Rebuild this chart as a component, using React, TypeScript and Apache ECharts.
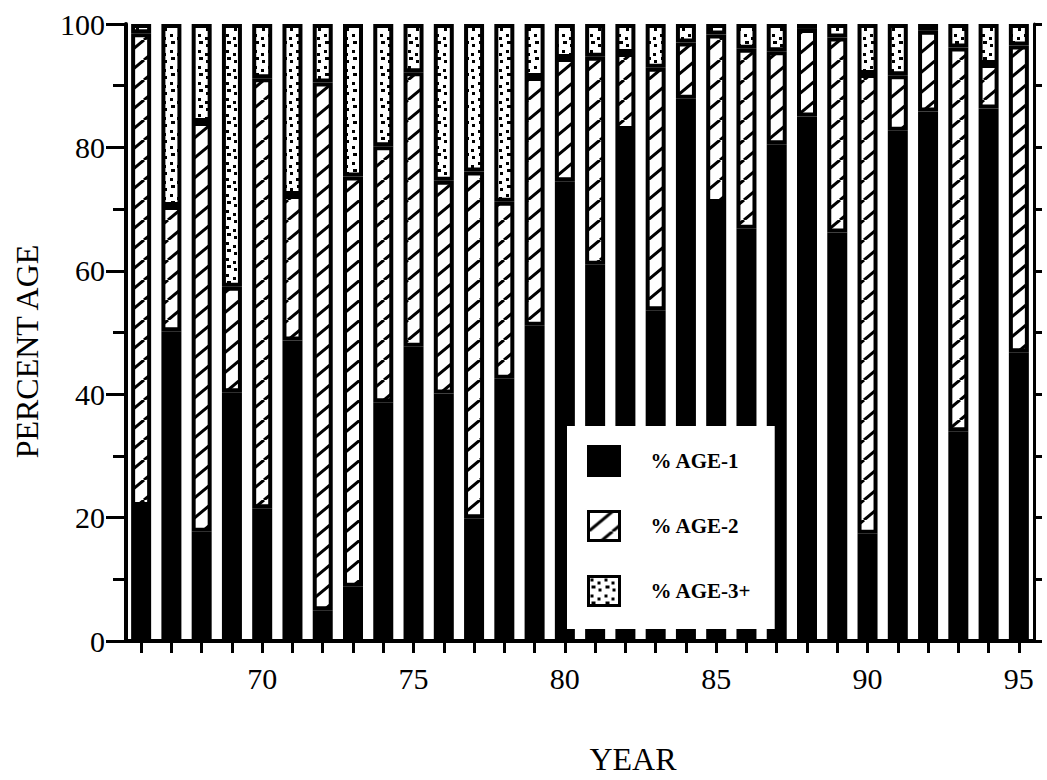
import React, { useEffect, useRef } from 'react';
import * as echarts from 'echarts';

const years = ['66','67','68','69','70','71','72','73','74','75','76','77','78','79','80','81','82','83','84','85','86','87','88','89','90','91','92','93','94','95'];
const age1 = [21.9, 50.2, 17.7, 40.3, 21.5, 48.7, 5.0, 8.8, 38.7, 47.7, 40.1, 19.9, 42.5, 51.1, 74.5, 61.0, 82.8, 53.6, 87.9, 71.0, 66.8, 80.5, 85.0, 66.2, 17.4, 82.7, 85.8, 34.0, 86.3, 46.8];
const age2 = [76.6, 20.3, 66.4, 17.1, 69.7, 23.6, 85.5, 66.5, 41.5, 44.5, 34.5, 56.2, 28.7, 40.3, 20.0, 33.7, 12.5, 39.3, 9.1, 27.3, 29.2, 15.1, 14.2, 31.6, 74.5, 9.0, 13.1, 62.2, 7.2, 49.7];
const age3 = [1.5, 29.5, 15.9, 42.6, 8.8, 27.7, 9.5, 24.7, 19.8, 7.8, 25.4, 23.9, 28.8, 8.6, 5.5, 5.3, 4.7, 7.1, 3.0, 1.7, 4.0, 4.4, 0.8, 2.2, 8.1, 8.3, 1.1, 3.8, 6.5, 3.5];
const seriesNames = ['% AGE-1', '% AGE-2', '% AGE-3+'];
const labelYears = ['70', '75', '80', '85', '90', '95'];

function makeHatch() {
  const w = 24, h = 20;
  const c = document.createElement('canvas');
  c.width = w; c.height = h;
  const g = c.getContext('2d')!;
  g.fillStyle = '#fff';
  g.fillRect(0, 0, w, h);
  g.strokeStyle = '#000';
  g.lineWidth = 3;
  for (const k of [-1, 0, 1]) {
    g.beginPath();
    g.moveTo(k * w, h);
    g.lineTo(k * w + w, 0);
    g.stroke();
  }
  return { image: c, repeat: 'repeat', imageWidth: w, imageHeight: h };
}

function makeDots() {
  const w = 14, h = 16;
  const c = document.createElement('canvas');
  c.width = w; c.height = h;
  const g = c.getContext('2d')!;
  g.fillStyle = '#fff';
  g.fillRect(0, 0, w, h);
  g.fillStyle = '#000';
  g.fillRect(2, 2, 3, 3);
  g.fillRect(9, 5, 3, 3);
  g.fillRect(3, 9, 4, 3);
  g.fillRect(10, 12, 3, 3);
  return { image: c, repeat: 'repeat', imageWidth: w, imageHeight: h };
}

export default function App() {
  const ref = useRef<HTMLDivElement>(null);
  useEffect(() => {
    document.body.style.margin = '0';
    const chart = echarts.init(ref.current!, null, { renderer: 'svg' });
    const font = '"Liberation Serif", "Times New Roman", serif';
    const fills = ['#000', makeHatch(), makeDots()];
    const datas = [age1, age2, age3];
    const series = seriesNames.map((name, i) => ({
      name,
      type: 'bar',
      stack: 'total',
      data: datas[i],
      barWidth: 20,
      xAxisIndex: 0,
      yAxisIndex: 0,
      itemStyle: { color: fills[i], borderColor: '#000', borderWidth: 4 },
      emphasis: { disabled: true },
    }));
    chart.setOption({
      animation: false,
      backgroundColor: '#fff',
      grid: { left: 126, right: 13, top: 24, bottom: 136, containLabel: false },
      legend: {
        orient: 'vertical',
        left: 567,
        top: 426,
        backgroundColor: '#fff',
        padding: [19, 23, 22, 20],
        itemWidth: 31,
        itemHeight: 29,
        itemGap: 33,
        icon: 'rect',
        selectedMode: false,
        itemStyle: { borderColor: '#000', borderWidth: 3 },
        textStyle: { fontFamily: font, fontSize: 21, fontWeight: 'bold', color: '#000', padding: [0, 0, 0, 26] },
        data: seriesNames,
      },
      xAxis: [
        {
          type: 'category',
          data: years,
          position: 'bottom',
          name: 'YEAR',
          nameLocation: 'middle',
          nameGap: 102,
          nameTextStyle: { fontFamily: font, fontSize: 32, color: '#000', padding: [0, 0, 0, 106] },
          axisLine: { show: true, lineStyle: { color: '#000', width: 4 } },
          axisTick: { show: true, alignWithLabel: true, interval: 0, length: 12, lineStyle: { color: '#000', width: 3 } },
          axisLabel: {
            interval: (_i: number, v: string) => labelYears.includes(v),
            fontFamily: font,
            fontSize: 30,
            color: '#000',
            margin: 22,
          },
          splitLine: { show: false },
        },
        {
          type: 'category',
          data: years,
          position: 'top',
          axisLine: { show: true, lineStyle: { color: '#000', width: 3 } },
          axisTick: { show: true, alignWithLabel: true, interval: 0, length: 12, lineStyle: { color: '#000', width: 3 } },
          axisLabel: { show: false },
          splitLine: { show: false },
        },
      ],
      yAxis: [
        {
          type: 'value',
          min: 0,
          max: 100,
          interval: 20,
          position: 'left',
          name: 'PERCENT AGE',
          nameLocation: 'middle',
          nameGap: 83,
          nameTextStyle: { fontFamily: font, fontSize: 32, color: '#000', padding: [0, 38, 0, 0] },
          axisLine: { show: true, lineStyle: { color: '#000', width: 4 } },
          axisTick: { show: true, length: 20, lineStyle: { color: '#000', width: 3 } },
          minorTick: { show: true, splitNumber: 2, length: 13, lineStyle: { color: '#000', width: 3 } },
          axisLabel: { fontFamily: font, fontSize: 30, color: '#000', margin: 21 },
          splitLine: { show: false },
        },
        {
          type: 'value',
          min: 0,
          max: 100,
          interval: 10,
          position: 'right',
          axisLine: { show: true, lineStyle: { color: '#000', width: 3 } },
          axisTick: { show: true, length: 8, lineStyle: { color: '#000', width: 3 } },
          axisLabel: { show: false },
          splitLine: { show: false },
        },
      ],
      series,
    });
    return () => chart.dispose();
  }, []);
  return <div ref={ref} style={{ width: 1047, height: 780 }} />;
}
